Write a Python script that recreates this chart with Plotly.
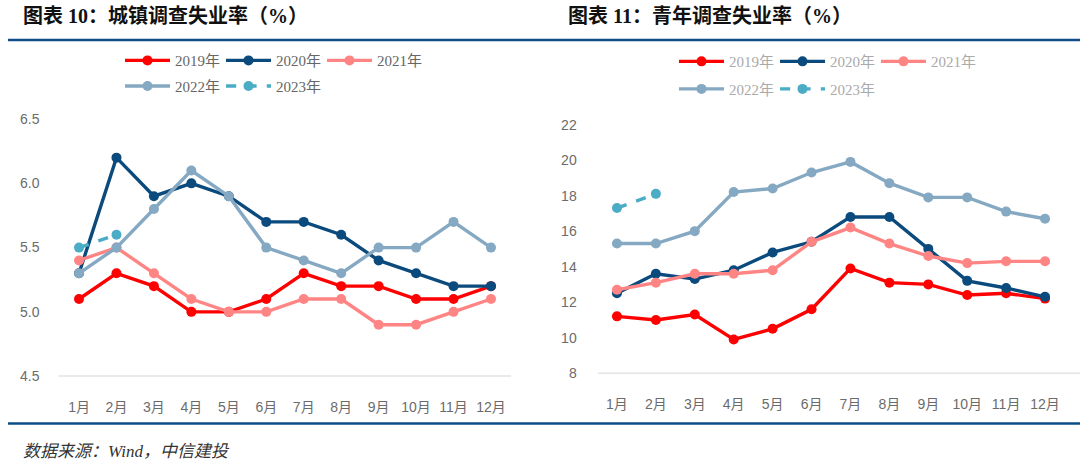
import plotly.graph_objects as go

months = ["1月", "2月", "3月", "4月", "5月", "6月", "7月", "8月", "9月", "10月", "11月", "12月"]

urban_2019 = [5.1, 5.3, 5.2, 5.0, 5.0, 5.1, 5.3, 5.2, 5.2, 5.1, 5.1, 5.2]
urban_2020 = [5.3, 6.2, 5.9, 6.0, 5.9, 5.7, 5.7, 5.6, 5.4, 5.3, 5.2, 5.2]
urban_2021 = [5.4, 5.5, 5.3, 5.1, 5.0, 5.0, 5.1, 5.1, 4.9, 4.9, 5.0, 5.1]
urban_2022 = [5.3, 5.5, 5.8, 6.1, 5.9, 5.5, 5.4, 5.3, 5.5, 5.5, 5.7, 5.5]
urban_2023 = [5.5, 5.6]

youth_2019 = [11.2, 11.0, 11.3, 9.9, 10.5, 11.6, 13.9, 13.1, 13.0, 12.4, 12.5, 12.2]
youth_2020 = [12.5, 13.6, 13.3, 13.8, 14.8, 15.4, 16.8, 16.8, 15.0, 13.2, 12.8, 12.3]
youth_2021 = [12.7, 13.1, 13.6, 13.6, 13.8, 15.4, 16.2, 15.3, 14.6, 14.2, 14.3, 14.3]
youth_2022 = [15.3, 15.3, 16.0, 18.2, 18.4, 19.3, 19.9, 18.7, 17.9, 17.9, 17.1, 16.7]
youth_2023 = [17.3, 18.1]

series_names = ["2019年", "2020年", "2021年", "2022年", "2023年"]
colors = ["#FF0000", "#0B4A7D", "#FF8585", "#85A9C2", "#4BACC6"]

W, H = 1080, 472

fig = go.Figure()

def add_set(data, xaxis, yaxis, legs):
    for i, (vals, name) in enumerate(zip(data, series_names)):
        fig.add_trace(go.Scatter(
            x=months[:len(vals)], y=vals, name=name, mode="lines+markers",
            line=dict(color=colors[i], width=3.4, dash="dash" if i == 4 else "solid"),
            marker=dict(color=colors[i], size=10),
            xaxis=xaxis, yaxis=yaxis,
            legend=legs[0] if i < 3 else legs[1],
        ))

add_set([urban_2019, urban_2020, urban_2021, urban_2022, urban_2023], "x", "y", ["legend", "legend2"])
add_set([youth_2019, youth_2020, youth_2021, youth_2022, youth_2023], "x2", "y2", ["legend3", "legend4"])

tickfont = dict(family="Arial, Liberation Sans, Noto Sans CJK SC", size=14, color="#6b6b6b")

def px_x(p):
    return p / W

def px_y(p):
    return 1 - p / H

xcommon = dict(type="category", categoryorder="array", categoryarray=months, range=[-0.5, 11.5],
               showgrid=False, zeroline=False, showline=False, tickfont=tickfont,
               ticks="outside", ticklen=18, tickcolor="rgba(0,0,0,0)", fixedrange=True)

fig.update_layout(
    width=W, height=H,
    margin=dict(l=0, r=0, t=0, b=0),
    paper_bgcolor="white", plot_bgcolor="white",
    xaxis=dict(domain=[px_x(60.3), px_x(509.7)], anchor="y", **xcommon),
    yaxis=dict(domain=[px_y(381), px_y(115)], range=[4.5, 6.5], dtick=0.5, tickformat=".1f",
               showgrid=False, zeroline=False, showline=False, tickfont=tickfont,
               ticks="outside", ticklen=17, tickcolor="rgba(0,0,0,0)", anchor="x"),
    xaxis2=dict(domain=[px_x(597.5), px_x(1064.5)], anchor="y2", **xcommon),
    yaxis2=dict(domain=[px_y(378), px_y(120.7)], range=[8, 22], dtick=2,
                showgrid=False, zeroline=False, showline=False, tickfont=tickfont,
                ticks="outside", ticklen=17, tickcolor="rgba(0,0,0,0)", anchor="x2"),
    showlegend=True,
)

leg_font_l = dict(family="Liberation Serif, Noto Sans CJK SC", size=15, color="#666666")
leg_font_r = dict(family="Liberation Serif, Noto Sans CJK SC", size=15, color="#aaaaaa")
legcommon = dict(orientation="h", xanchor="left", yanchor="middle", bgcolor="rgba(0,0,0,0)",
                 entrywidth=41, entrywidthmode="pixels", itemwidth=45,
                 itemclick=False, itemdoubleclick=False, tracegroupgap=0)
fig.update_layout(
    legend=dict(x=px_x(120), y=px_y(54.5), font=leg_font_l, **legcommon),
    legend2=dict(x=px_x(120), y=px_y(81), font=leg_font_l, **legcommon),
    legend3=dict(x=px_x(674), y=px_y(55.5), font=leg_font_r, **legcommon),
    legend4=dict(x=px_x(674), y=px_y(84), font=leg_font_r, **legcommon),
)

blue = "#0E4C85"
shapes = [
    dict(type="line", xref="paper", yref="paper", x0=px_x(58), x1=px_x(511), y0=px_y(381), y1=px_y(381),
         line=dict(color="#E3E3E3", width=1.5)),
    dict(type="line", xref="paper", yref="paper", x0=px_x(598), x1=1, y0=px_y(378), y1=px_y(378),
         line=dict(color="#E3E3E3", width=1.5)),
    dict(type="line", xref="paper", yref="paper", x0=px_x(8), x1=1, y0=px_y(33), y1=px_y(33),
         line=dict(color=blue, width=2.5)),
    dict(type="line", xref="paper", yref="paper", x0=px_x(8), x1=1, y0=px_y(430), y1=px_y(430),
         line=dict(color=blue, width=2.5)),
]
fig.update_layout(shapes=shapes)

title_font = dict(family="Liberation Serif, Noto Sans CJK SC", size=20, color="#111111")
annotations = [
    dict(text="<b>图表 10：城镇调查失业率（%）</b>", x=px_x(21), y=px_y(8), xref="paper", yref="paper",
         xanchor="left", yanchor="middle", showarrow=False, font=title_font),
    dict(text="<b>图表 11：青年调查失业率（%）</b>", x=px_x(566), y=px_y(8), xref="paper", yref="paper",
         xanchor="left", yanchor="middle", showarrow=False, font=title_font),
    dict(text="<i>数据来源：Wind，中信建投</i>", x=px_x(21), y=px_y(459), xref="paper", yref="paper",
         xanchor="left", yanchor="middle", showarrow=False,
         font=dict(family="Liberation Serif, Noto Sans CJK SC", size=17, color="#333333")),
]
fig.update_layout(annotations=annotations)

fig.write_html("out.html")
